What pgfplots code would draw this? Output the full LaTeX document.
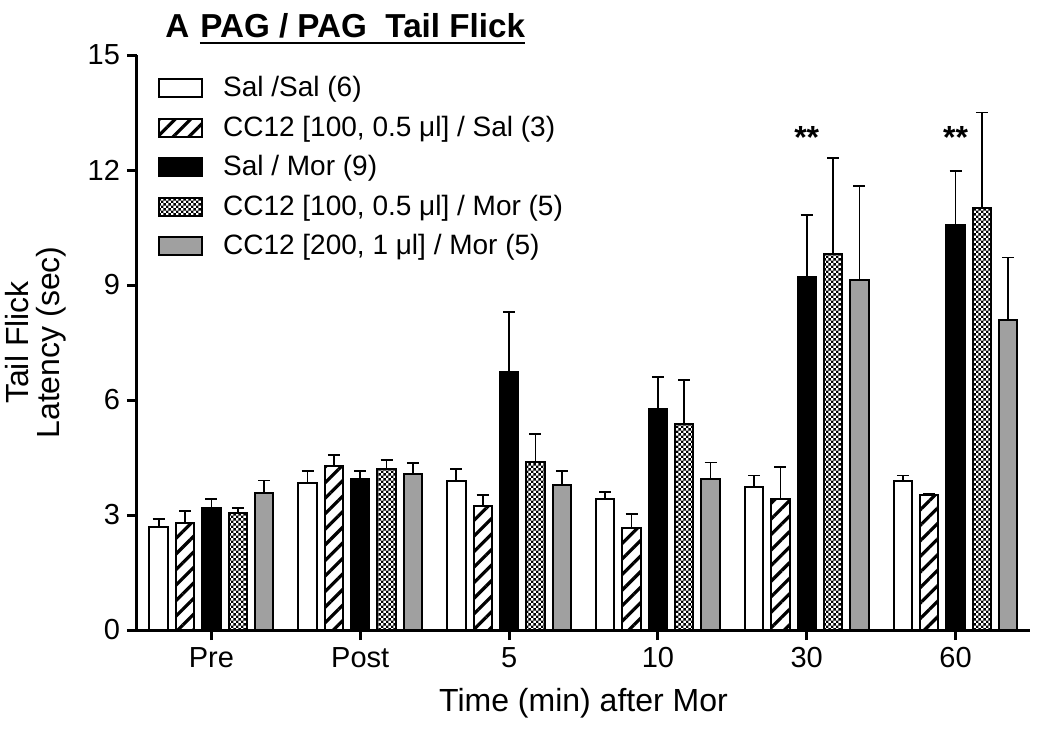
\documentclass[border=0pt]{standalone}
\usepackage{fontspec}
\setmainfont{Liberation Sans}
\usepackage{pgfplots}
\usepackage{pgfplotstable}
\pgfplotsset{compat=1.18}
\usetikzlibrary{patterns,patterns.meta}
\definecolor{bargray}{RGB}{160,160,160}
\pgfdeclarepatternformonly{finecheck}{\pgfpointorigin}{\pgfqpoint{2.7pt}{2.7pt}}{\pgfqpoint{2.7pt}{2.7pt}}{%
  \pgfpathrectangle{\pgfpointorigin}{\pgfqpoint{1.35pt}{1.35pt}}%
  \pgfpathrectangle{\pgfqpoint{1.35pt}{1.35pt}}{\pgfqpoint{1.35pt}{1.35pt}}%
  \pgfusepath{fill}}

\pgfplotstableread{
x  ss   ssE  cs   csE  sm    smE  cm    cmE  cg   cgE
0  2.70 0.20 2.80 0.30 3.17  0.24 3.04  0.14 3.57 0.33
1  3.83 0.32 4.28 0.29 3.95  0.20 4.19  0.24 4.06 0.29
2  3.89 0.30 3.24 0.28 6.72  1.58 4.39  0.72 3.77 0.38
3  3.43 0.17 2.67 0.36 5.77  0.83 5.37  1.15 3.93 0.44
4  3.73 0.30 3.43 0.82 9.22  1.60 9.82  2.50 9.13 2.46
5  3.90 0.13 3.53 0.03 10.57 1.40 11.00 2.50 8.10 1.62
}\data

\begin{document}
\begin{tikzpicture}
\begin{axis}[
  scale only axis, width=446.5pt, height=287.5pt,
  xmin=-0.5, xmax=5.5, ymin=0, ymax=15,
  axis x line*=bottom, axis y line*=left,
  axis line style={line width=1.5pt, black},
  ytick={0,3,6,9,12,15},
  xtick={0,1,2,3,4,5},
  xticklabels={Pre,Post,5,10,30,60},
  tick align=outside, major tick length=5pt,
  tick style={black, line width=1.5pt},
  ticklabel style={font=\fontsize{14.5}{17}\selectfont},
  /pgf/number format/assume math mode=true,
  ybar, bar width=0.124,
  clip=false,
  xlabel={Time (min) after Mor},
  xlabel style={at={(axis description cs:0.5,-0.127)}, anchor=center, font=\fontsize{16}{19}\selectfont},
  ylabel={Tail Flick\\Latency (sec)},
  ylabel style={at={(axis description cs:-0.113,0.5)}, anchor=center, align=center, font=\fontsize{16}{15.5}\selectfont},
  error bars/error mark=|,
  error bars/error bar style={black, line width=0.9pt},
  error bars/error mark options={black, line width=0.9pt, mark size=3pt},
  legend style={draw=none, fill=none, at={(axis description cs:0.0165,0.977)}, anchor=north west,
     font=\fontsize{14}{16}\selectfont, row sep=4.1pt, column sep=8pt},
  legend cell align=left,
  legend image code/.code={\draw[#1,bar shift=0pt] (0pt,-4.5pt) rectangle (21.5pt,4.5pt);},
]
\addplot[draw=black, line width=1pt, fill=white, bar shift=-0.354,
  error bars/.cd, y dir=plus, y explicit] table[x=x, y=ss, y error=ssE]{\data};
\addplot[draw=black, line width=1pt, pattern={Lines[angle=45,distance=5.5pt,line width=1.6pt]}, pattern color=black, bar shift=-0.177,
  error bars/.cd, y dir=plus, y explicit] table[x=x, y=cs, y error=csE]{\data};
\addplot[draw=black, line width=1pt, fill=black, bar shift=0,
  error bars/.cd, y dir=plus, y explicit] table[x=x, y=sm, y error=smE]{\data};
\addplot[draw=black, line width=1pt, pattern=finecheck, pattern color=black, bar shift=0.177,
  error bars/.cd, y dir=plus, y explicit] table[x=x, y=cm, y error=cmE]{\data};
\addplot[draw=black, line width=1pt, fill=bargray, bar shift=0.354,
  error bars/.cd, y dir=plus, y explicit] table[x=x, y=cg, y error=cgE]{\data};
\legend{Sal /Sal (6), {CC12 [100, 0.5 μl] / Sal (3)}, Sal / Mor (9), {CC12 [100, 0.5 μl] / Mor (5)}, {CC12 [200, 1 μl] / Mor (5)}}

\node[anchor=base, font=\bfseries\fontsize{16}{19}\selectfont] at (axis cs:4,12.57) {**};
\node[anchor=base, font=\bfseries\fontsize{16}{19}\selectfont] at (axis cs:5,12.57) {**};
\node[anchor=base west, inner sep=0pt, font=\bfseries\fontsize{16.6}{19}\selectfont] at (axis description cs:0.0314,1.0296) {A};
\node[anchor=base west, inner sep=0pt, font=\bfseries\fontsize{16.6}{19}\selectfont] (T) at (axis description cs:0.0705,1.0296) {PAG / PAG\ \ Tail Flick};
\draw[line width=1.4pt] ([yshift=-2.5pt]T.base west) -- ([yshift=-2.5pt]T.base east);
\coordinate (O) at (rel axis cs:0,0);
\end{axis}
\pgfresetboundingbox
\path[use as bounding box] ([shift={(-68.5pt,-50pt)}]O) rectangle ([shift={(456.5pt,315pt)}]O);
\end{tikzpicture}
\end{document}
